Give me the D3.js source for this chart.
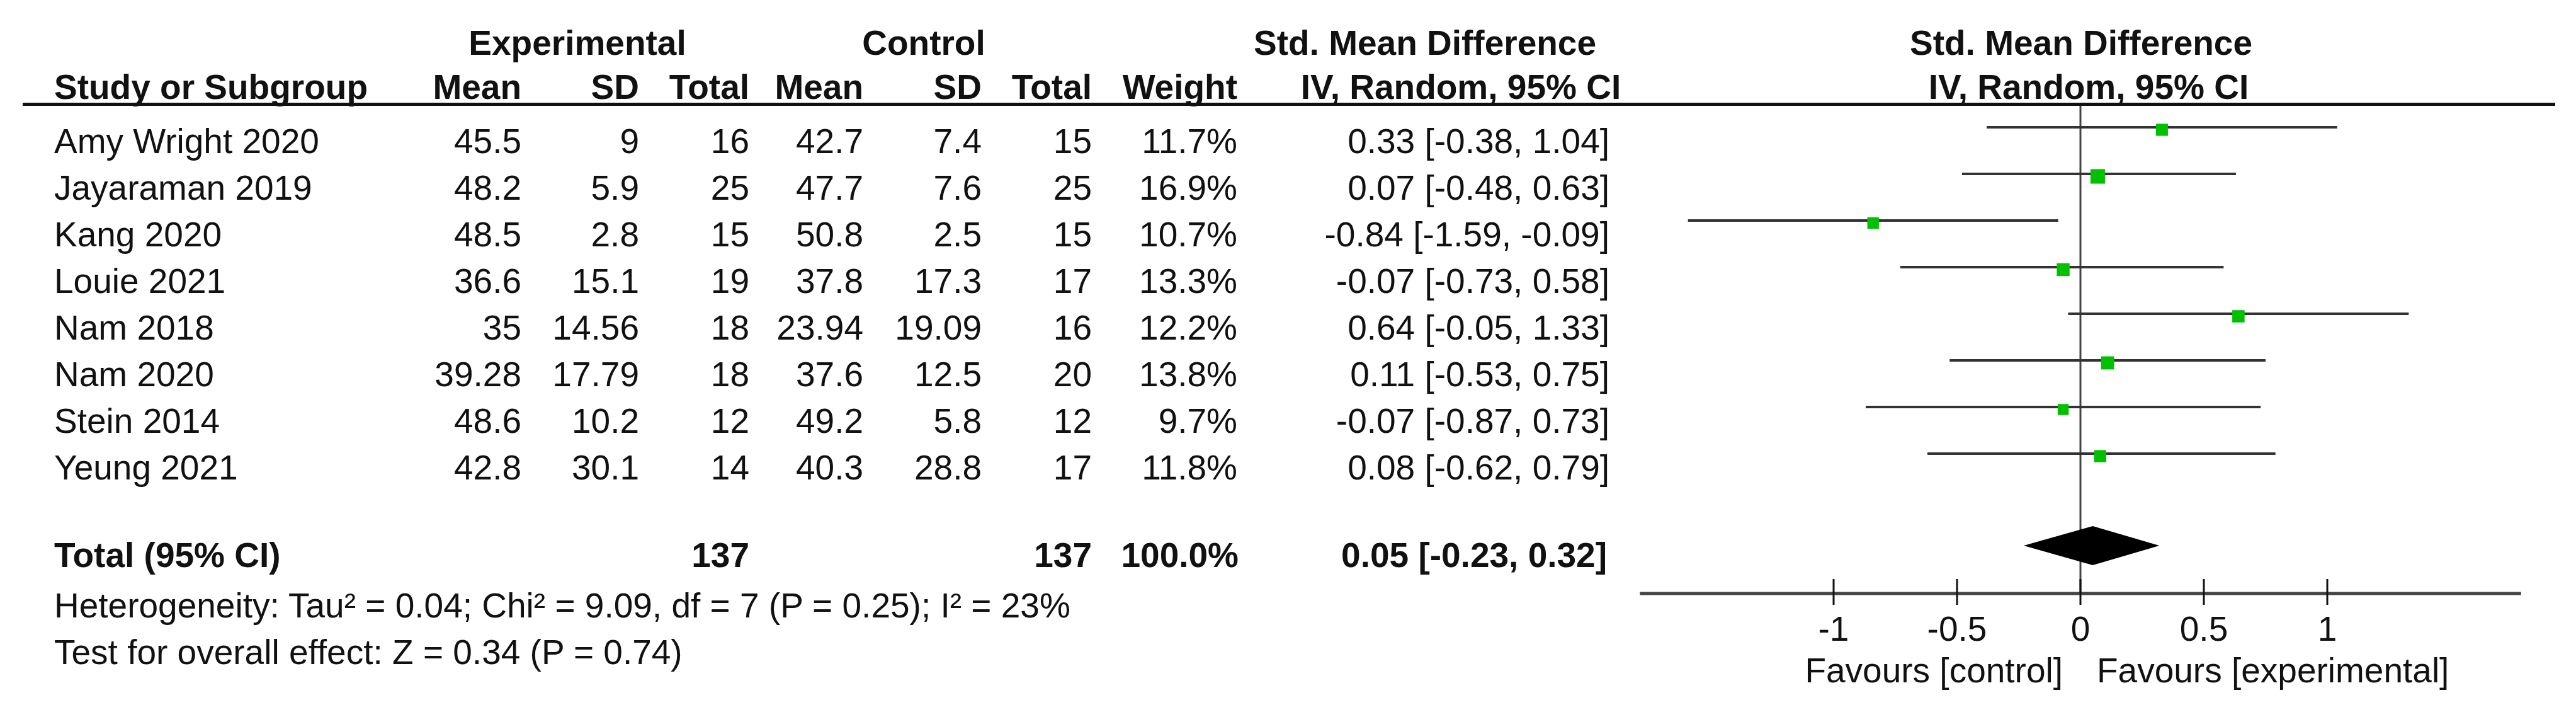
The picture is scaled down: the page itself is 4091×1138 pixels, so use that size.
<!DOCTYPE html>
<html>
<head>
<meta charset="utf-8">
<script src="https://cdnjs.cloudflare.com/ajax/libs/d3/7.8.5/d3.min.js"></script>
<style>
  body { margin: 0; background: #fff; }
  text { font-family: "Liberation Sans", Arial, sans-serif; font-size: 55px; fill: #111; }
  .b { font-weight: bold; }
</style>
</head>
<body>
<div class="chart"></div>
<script>
// study data
var studies = ['Amy Wright 2020', 'Jayaraman 2019', 'Kang 2020', 'Louie 2021', 'Nam 2018', 'Nam 2020', 'Stein 2014', 'Yeung 2021'];
var expMean = [45.5, 48.2, 48.5, 36.6, 35, 39.28, 48.6, 42.8];
var expSD = [9, 5.9, 2.8, 15.1, 14.56, 17.79, 10.2, 30.1];
var expN = [16, 25, 15, 19, 18, 18, 12, 14];
var ctrlMean = [42.7, 47.7, 50.8, 37.8, 23.94, 37.6, 49.2, 40.3];
var ctrlSD = [7.4, 7.6, 2.5, 17.3, 19.09, 12.5, 5.8, 28.8];
var ctrlN = [15, 25, 15, 17, 16, 20, 12, 17];
var weights = [11.7, 16.9, 10.7, 13.3, 12.2, 13.8, 9.7, 11.8];
var smd = [0.33, 0.07, -0.84, -0.07, 0.64, 0.11, -0.07, 0.08];
var lower = [-0.38, -0.48, -1.59, -0.73, -0.05, -0.53, -0.87, -0.62];
var upper = [1.04, 0.63, -0.09, 0.58, 1.33, 0.75, 0.73, 0.79];

var totalEst = [0.05, -0.23, 0.32];   // estimate, lower, upper
var totalN = [137, 137];
var totalWeight = 100;
var axisTicks = [-1, -0.5, 0, 0.5, 1];
var heterogeneity = 'Heterogeneity: Tau\u00b2 = 0.04; Chi\u00b2 = 9.09, df = 7 (P = 0.25); I\u00b2 = 23%';
var overall = 'Test for overall effect: Z = 0.34 (P = 0.74)';

var W = 4091, H = 1138;

var loc = d3.formatLocale({ decimal: '.', thousands: ',', grouping: [3], currency: ['', ''], minus: '-' });
var f2 = loc.format('.2f');
var f1 = loc.format('.1f');
var ciText = (e, l, u) => `${f2(e)} [${f2(l)}, ${f2(u)}]`;

var svg = d3.select('.chart')
    .append('svg')
    .attr('width', W)
    .attr('height', H);

svg.append('rect').attr('width', W).attr('height', H).attr('fill', '#fff');

// scales
var x = d3.scaleLinear().domain([-1, 1]).range([2912, 3696]);
var rowY = d3.scaleLinear().domain([0, studies.length - 1]).range([202, 720]);
var boxSize = d3.scaleSqrt().domain([0, 16.9]).range([0, 23]);

// column right edges of the table
var cols = [
    { head: 'Mean', x: 828, vals: expMean },
    { head: 'SD', x: 1015, vals: expSD },
    { head: 'Total', x: 1190, vals: expN },
    { head: 'Mean', x: 1371, vals: ctrlMean },
    { head: 'SD', x: 1559, vals: ctrlSD },
    { head: 'Total', x: 1734, vals: ctrlN },
    { head: 'Weight', x: 1965, vals: weights.map(w => f1(w) + '%') }
];

// headers
var hdr = svg.append('g').attr('class', 'b');
hdr.append('text').attr('x', 917).attr('y', 87).attr('text-anchor', 'middle').text('Experimental');
hdr.append('text').attr('x', 1467).attr('y', 87).attr('text-anchor', 'middle').text('Control');
hdr.append('text').attr('x', 2263).attr('y', 87).attr('text-anchor', 'middle').text('Std. Mean Difference');
hdr.append('text').attr('x', 3305).attr('y', 87).attr('text-anchor', 'middle').text('Std. Mean Difference');
hdr.append('text').attr('x', 86).attr('y', 157).text('Study or Subgroup');
cols.forEach(c => {
    hdr.append('text').attr('x', c.x).attr('y', 157).attr('text-anchor', 'end').text(c.head);
});
hdr.append('text').attr('x', 2320).attr('y', 157).attr('text-anchor', 'middle').text('IV, Random, 95% CI');
hdr.append('text').attr('x', 3317).attr('y', 157).attr('text-anchor', 'middle').text('IV, Random, 95% CI');

svg.append('line')
    .attr('x1', 36).attr('x2', 4058)
    .attr('y1', 165.5).attr('y2', 165.5)
    .attr('stroke', '#111').attr('stroke-width', 5);

// study rows
var rows = svg.selectAll('g.row')
    .data(studies)
    .enter()
    .append('g')
    .attr('class', 'row')
    .attr('transform', (d, i) => `translate(0, ${rowY(i) + 41})`);

rows.append('text').attr('x', 86).text(d => d);
cols.forEach(c => {
    rows.append('text')
        .attr('x', c.x)
        .attr('text-anchor', 'end')
        .text((d, i) => c.vals[i]);
});
rows.append('text')
    .attr('x', 2556)
    .attr('text-anchor', 'end')
    .text((d, i) => ciText(smd[i], lower[i], upper[i]));

// total row
var tot = svg.append('g').attr('class', 'b').attr('transform', 'translate(0, 900)');
tot.append('text').attr('x', 86).text('Total (95% CI)');
tot.append('text').attr('x', 1190).attr('text-anchor', 'end').text(totalN[0]);
tot.append('text').attr('x', 1734).attr('text-anchor', 'end').text(totalN[1]);
tot.append('text').attr('x', 1967).attr('text-anchor', 'end').text(f1(totalWeight) + '%');
tot.append('text').attr('x', 2552).attr('text-anchor', 'end').text(ciText(totalEst[0], totalEst[1], totalEst[2]));

svg.append('text').attr('x', 86).attr('y', 980).text(heterogeneity);
svg.append('text').attr('x', 86).attr('y', 1054).text(overall);

// plot: zero line
svg.append('line')
    .attr('x1', x(0)).attr('x2', x(0))
    .attr('y1', 168).attr('y2', 942)
    .attr('stroke', '#444').attr('stroke-width', 3);

// confidence intervals
svg.selectAll('line.ci')
    .data(studies)
    .enter()
    .append('line')
    .attr('class', 'ci')
    .attr('x1', (d, i) => x(lower[i]))
    .attr('x2', (d, i) => x(upper[i]))
    .attr('y1', (d, i) => rowY(i))
    .attr('y2', (d, i) => rowY(i))
    .attr('stroke', '#333')
    .attr('stroke-width', 4);

// weight boxes
svg.selectAll('rect.box')
    .data(studies)
    .enter()
    .append('rect')
    .attr('class', 'box')
    .attr('x', (d, i) => x(smd[i]) - boxSize(weights[i]) / 2)
    .attr('y', (d, i) => rowY(i) + 4 - boxSize(weights[i]) / 2)
    .attr('width', (d, i) => boxSize(weights[i]))
    .attr('height', (d, i) => boxSize(weights[i]))
    .attr('fill', '#00c000');

// pooled diamond
var dy = 866;
svg.append('path')
    .attr('d', `M${x(totalEst[1])},${dy} L${x(totalEst[0])},${dy - 31} L${x(totalEst[2])},${dy} L${x(totalEst[0])},${dy + 31} Z`)
    .attr('fill', '#000');

// axis
var axisG = svg.append('g').attr('transform', 'translate(0, 942)');
axisG.append('line')
    .attr('x1', x(-1.785)).attr('x2', x(1.785))
    .attr('stroke', '#444').attr('stroke-width', 5);
axisG.selectAll('line.tick')
    .data(axisTicks)
    .enter()
    .append('line')
    .attr('class', 'tick')
    .attr('x1', d => x(d)).attr('x2', d => x(d))
    .attr('y1', -23).attr('y2', 18)
    .attr('stroke', '#111').attr('stroke-width', 3);
axisG.selectAll('text.tl')
    .data(axisTicks)
    .enter()
    .append('text')
    .attr('class', 'tl')
    .attr('x', d => x(d))
    .attr('y', 75)
    .attr('text-anchor', 'middle')
    .text(d => loc.format('')(d));

svg.append('text').attr('x', 3276).attr('y', 1083).attr('text-anchor', 'end').text('Favours [control]');
svg.append('text').attr('x', 3330).attr('y', 1083).text('Favours [experimental]');
</script>
</body>
</html>
